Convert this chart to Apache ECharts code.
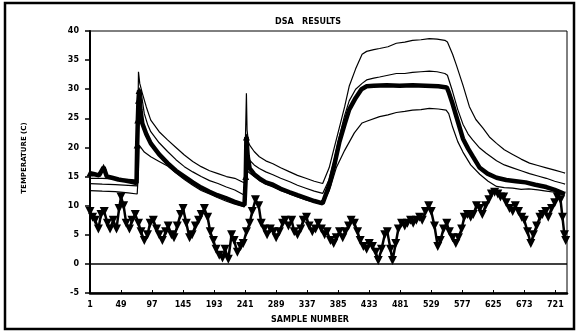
<!DOCTYPE html>
<html>
<head>
<meta charset="utf-8">
<script src="https://cdn.jsdelivr.net/npm/echarts@6/dist/echarts.min.js"></script>
<style>
html, body { margin: 0; padding: 0; background: #fff; }
#chart { width: 578px; height: 332px; }
</style>
</head>
<body>
<div id="chart"></div>
<script>
// sample-number ticks on the x axis
const xTicks = [1, 49, 97, 145, 193, 241, 289, 337, 385, 433, 481, 529, 577, 625, 673, 721];

// [sample, temperature]
const maxCurve = [[1,14.7],[20,14.7],[40,14.6],[60,14.5],[74,14.4],[75,24],[76,33.0],[78,31.0],[82,29.3],[88,27.0],[95,24.7],[108,22.7],[121,21.3],[134,20.0],[147,18.7],[160,17.6],[173,16.7],[186,16.0],[199,15.5],[212,15.0],[225,14.7],[240,13.9],[242,14.0],[243,29.3],[244,23],[246,21.0],[248,20.4],[255,19.3],[263,18.4],[273,17.7],[284,17.2],[296,16.5],[310,15.8],[322,15.2],[335,14.7],[348,14.2],[361,13.8],[364,13.9],[371,16.5],[379,20.0],[387,23.5],[395,27.0],[402,30.5],[412,33.5],[422,36.0],[429,36.5],[440,36.8],[449,37.0],[462,37.3],[475,37.9],[488,38.1],[500,38.4],[513,38.5],[526,38.7],[538,38.6],[550,38.4],[554,38.1],[562,36.0],[568,34.1],[578,30.7],[588,27.0],[598,24.8],[609,23.3],[619,21.8],[630,20.7],[642,19.6],[655,18.8],[668,18.0],[681,17.3],[694,16.9],[707,16.5],[720,16.1],[733,15.7],[736,15.6]];

const upperCurve = [[1,13.8],[20,13.7],[40,13.6],[60,13.5],[74,13.4],[76,26],[78,30.0],[80,29.6],[85,25.8],[90,24.0],[95,22.7],[108,20.8],[121,19.3],[134,17.9],[147,16.7],[160,15.8],[173,15.0],[186,14.3],[199,13.8],[212,13.2],[225,12.7],[240,11.8],[242,11.9],[244,19.5],[248,17.8],[255,17.0],[263,16.4],[273,15.8],[284,15.3],[296,14.7],[310,14.1],[322,13.5],[335,13.0],[348,12.5],[361,12.1],[364,12.2],[371,14.5],[379,18.0],[387,22.0],[395,25.5],[402,28.0],[412,30.0],[422,31.0],[429,31.6],[440,31.9],[449,32.1],[462,32.4],[475,32.7],[488,32.7],[500,32.9],[513,33.0],[526,33.1],[538,33.0],[550,32.7],[554,32.4],[562,29.6],[570,26.5],[578,24.0],[586,22.3],[593,21.3],[604,19.9],[614,19.0],[630,17.7],[642,17.0],[655,16.5],[668,16.0],[681,15.5],[694,15.1],[707,14.7],[720,14.2],[733,13.8],[736,13.7]];

const meanCurve = [[1,15.6],[8,15.4],[15,15.2],[22,16.6],[27,15.0],[35,14.8],[45,14.5],[55,14.3],[65,14.1],[73,13.9],[74,20.4],[75,24.7],[76,28.1],[77,29.8],[79,26.5],[82,24.1],[88,22.3],[95,20.7],[108,18.8],[121,17.3],[134,16.0],[147,15.0],[160,14.0],[173,13.1],[186,12.4],[198,11.8],[211,11.3],[224,10.7],[232,10.4],[240,10.1],[242,15.0],[243,21.8],[245,18.5],[248,16.4],[255,15.4],[263,14.7],[273,14.0],[284,13.6],[296,12.9],[310,12.3],[322,11.8],[335,11.3],[348,10.8],[361,10.4],[364,10.3],[371,13.5],[379,17.0],[387,21.0],[395,24.0],[402,26.5],[412,28.5],[421,30.0],[429,30.5],[440,30.6],[460,30.7],[480,30.6],[500,30.7],[520,30.6],[540,30.5],[553,30.3],[556,29.5],[562,27.5],[570,24.5],[578,21.5],[586,19.8],[593,18.5],[604,16.5],[616,15.5],[630,14.8],[645,14.4],[660,14.2],[675,14.0],[690,13.6],[707,13.2],[720,12.7],[733,12.1],[736,12.0]];

// samples of the mean curve that carry a triangle marker
const meanMarked = [1, 22, 74, 75, 76, 77, 242, 243];

const minCurve = [[1,12.6],[20,12.5],[40,12.4],[60,12.2],[74,12.0],[76,16],[77,20.4],[85,19.2],[95,18.4],[108,17.6],[121,16.8],[134,15.6],[147,14.5],[160,13.5],[173,12.6],[186,12.0],[198,11.4],[211,10.8],[224,10.3],[240,9.8],[242,9.9],[244,16.0],[248,15.6],[255,15.0],[263,14.3],[273,13.7],[284,13.2],[296,12.6],[310,12.0],[322,11.5],[335,11.0],[348,10.6],[361,10.2],[364,10.1],[371,12.5],[382,16.5],[395,19.5],[410,22.5],[422,24.2],[429,24.5],[449,25.3],[462,25.6],[475,26.0],[488,26.2],[500,26.4],[513,26.5],[526,26.7],[540,26.6],[552,26.4],[556,25.8],[562,23.5],[570,21.0],[578,19.2],[590,17.0],[604,15.4],[617,14.2],[630,13.3],[642,13.1],[655,13.0],[668,12.8],[680,12.9],[694,12.7],[707,12.5],[720,12.3],[733,12.2],[736,12.1]];

const lowerSeries = [[1,9.0],[5,8.0],[9,7.5],[14,6.0],[18,8.5],[23,9.0],[28,7.0],[32,6.0],[37,7.5],[42,6.0],[46,9.5],[49,11.5],[53,10.0],[57,7.0],[62,6.0],[66,7.5],[71,8.5],[76,7.0],[80,5.5],[85,4.0],[90,5.0],[94,7.0],[99,7.5],[104,6.0],[108,5.0],[113,4.0],[118,5.5],[122,6.5],[127,5.0],[131,4.5],[136,6.5],[141,8.5],[145,9.5],[150,7.0],[155,4.5],[159,5.0],[164,6.5],[169,7.5],[173,8.5],[178,9.5],[183,8.0],[187,5.5],[192,4.0],[196,2.5],[201,1.5],[206,1.0],[210,2.5],[215,0.8],[220,5.0],[224,4.0],[229,2.0],[234,3.0],[238,3.5],[243,5.5],[248,7.0],[252,9.0],[257,11.0],[262,10.0],[266,7.0],[271,6.0],[275,5.0],[280,6.0],[285,5.5],[289,4.5],[294,5.5],[299,7.0],[303,7.5],[308,6.5],[313,7.5],[317,5.5],[322,5.0],[327,6.0],[331,7.5],[336,8.0],[340,6.5],[345,5.5],[350,6.0],[354,7.0],[359,6.0],[364,5.0],[368,5.5],[373,4.0],[378,3.5],[382,4.5],[387,5.5],[392,4.5],[396,5.5],[401,6.5],[405,7.5],[410,7.0],[415,5.5],[419,4.0],[424,3.0],[429,2.5],[433,3.5],[438,3.0],[443,2.0],[447,0.6],[452,2.5],[457,5.0],[461,5.5],[466,2.5],[469,0.6],[474,3.5],[478,6.0],[483,7.0],[488,6.5],[492,7.0],[497,7.5],[501,7.0],[506,7.5],[511,8.0],[515,7.5],[520,9.0],[525,10.0],[529,9.0],[534,6.5],[539,3.0],[543,4.0],[548,6.0],[553,7.0],[557,5.5],[562,4.5],[567,3.5],[571,4.5],[576,6.0],[580,8.0],[585,8.5],[590,8.0],[594,8.5],[599,10.0],[604,9.5],[608,8.5],[613,10.0],[618,11.0],[622,12.0],[627,12.3],[632,12.0],[636,11.5],[641,11.5],[645,10.5],[650,9.5],[655,9.0],[659,10.0],[664,9.0],[669,8.0],[673,7.5],[678,5.5],[683,3.5],[687,5.0],[692,6.5],[697,8.0],[701,8.5],[706,9.0],[710,8.0],[715,9.5],[720,10.5],[724,11.5],[729,11.0],[732,8.0],[735,5.0],[737,4.0]];

const FONT = 'DejaVu Sans';
const chart = echarts.init(document.getElementById('chart'));

function thinLine(data) {
    return {
        type: 'line',
        data: data,
        symbol: 'none',
        lineStyle: { color: '#000', width: 1.2 },
        silent: true,
        z: 3,
    };
}

chart.setOption({
    animation: false,
    backgroundColor: '#fff',
    grid: {
        left: 90, right: 11, top: 31, bottom: 39,
        show: true, borderColor: '#000', borderWidth: 1,
    },
    xAxis: {
        type: 'value',
        min: 1,
        max: 739,
        axisLine: { onZero: false, lineStyle: { color: '#000', width: 2.5 } },
        axisTick: { customValues: xTicks, inside: true, length: 3, lineStyle: { color: '#000' } },
        axisLabel: {
            customValues: xTicks, color: '#000', fontFamily: FONT,
            fontWeight: 'bold', fontSize: 8, margin: 8,
        },
        splitLine: { show: false },
    },
    yAxis: {
        type: 'value',
        min: -5,
        max: 40,
        interval: 5,
        axisLine: { show: true, lineStyle: { color: '#000', width: 2 } },
        axisTick: { show: true, length: 5, lineStyle: { color: '#000', width: 1.5 } },
        axisLabel: { color: '#000', fontFamily: FONT, fontWeight: 'bold', fontSize: 8, margin: 11 },
        splitLine: { show: false },
    },
    graphic: [
        {
            type: 'rect', silent: true,
            shape: { x: 5, y: 3, width: 569, height: 326 },
            style: { fill: 'none', stroke: '#000', lineWidth: 2.5 },
        },
        {
            type: 'text', x: 308, y: 22, silent: true,
            style: {
                text: 'DSA   RESULTS', fill: '#000', font: 'bold 8px "DejaVu Sans"',
                align: 'center', verticalAlign: 'middle',
            },
        },
        {
            type: 'text', x: 310, y: 320, silent: true,
            style: {
                text: 'SAMPLE NUMBER', fill: '#000', font: 'bold 8px "DejaVu Sans"',
                align: 'center', verticalAlign: 'middle',
            },
        },
        {
            type: 'text', x: 24, y: 158, rotation: Math.PI / 2, silent: true,
            style: {
                text: 'TEMPERATURE (C)', fill: '#000', font: 'bold 7px "DejaVu Sans"',
                align: 'center', verticalAlign: 'middle',
            },
        },
    ],
    series: [
        thinLine(maxCurve),
        thinLine(upperCurve),
        thinLine(minCurve),
        {
            type: 'line',
            data: meanCurve.map(p => meanMarked.includes(p[0])
                ? { value: p, symbol: 'triangle' }
                : { value: p }),
            symbol: 'none',
            showSymbol: true,
            symbolSize: 7,
            itemStyle: { color: '#000' },
            lineStyle: { color: '#000', width: 4.5 },
            silent: true,
            z: 4,
        },
        {
            type: 'line',
            data: lowerSeries,
            symbol: 'triangle',
            symbolRotate: 180,
            symbolSize: 9,
            showAllSymbol: true,
            itemStyle: { color: '#000' },
            lineStyle: { color: '#000', width: 2.5 },
            silent: true,
            z: 5,
            markLine: {
                silent: true,
                symbol: 'none',
                label: { show: false },
                lineStyle: { color: '#000', type: 'solid', width: 1.5 },
                data: [{ yAxis: 0 }],
            },
        },
    ],
});
</script>
</body>
</html>
